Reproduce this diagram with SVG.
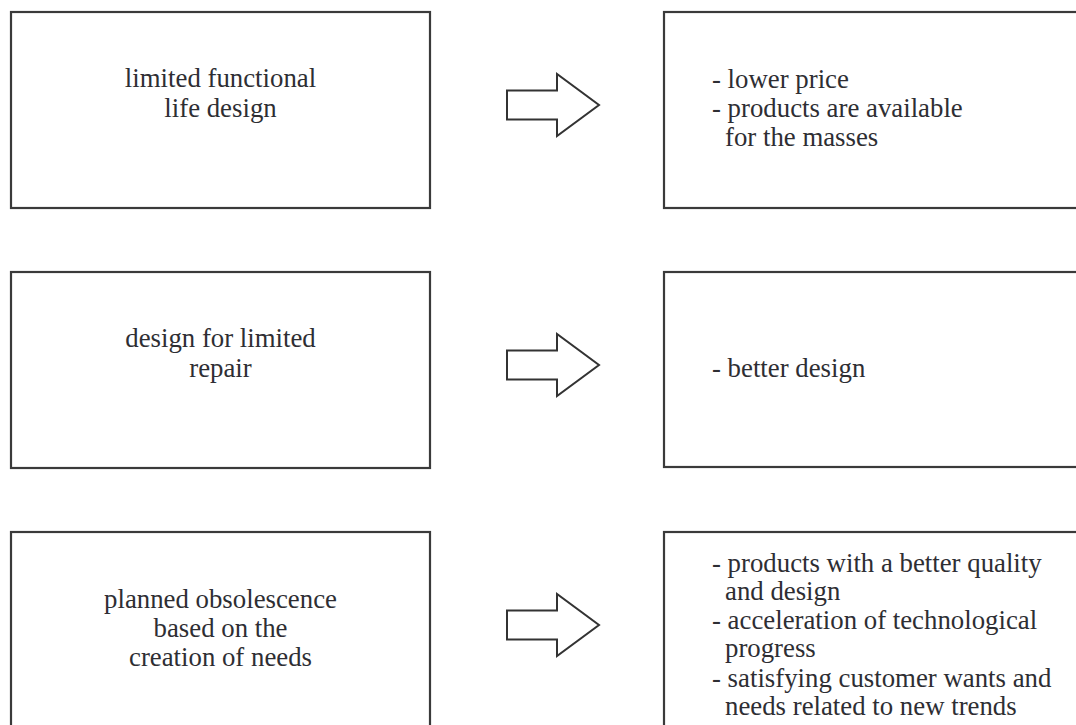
<svg xmlns="http://www.w3.org/2000/svg" width="1076" height="725" viewBox="0 0 1076 725">
<style>
.box{fill:#fff;stroke:#3a3a3a;stroke-width:2.2}
.arr{fill:#fff;stroke:#333;stroke-width:2;stroke-linejoin:miter}
.t{font-family:"Liberation Serif",serif;font-size:26.8px;fill:#2e2e33}
.c{text-anchor:middle}
</style>
<rect width="1076" height="725" fill="#fff"/>
<g id="connectors">
<path class="arr" d="M507,90.5 H557 V74 L599,105 L557,136 V119.5 H507 Z"/>
<path class="arr" d="M507,350.5 H557 V334 L599,365 L557,396 V379.5 H507 Z"/>
<path class="arr" d="M507,610.5 H557 V594 L599,625 L557,656 V639.5 H507 Z"/>
</g>
<g id="n1">
<rect class="box" x="11" y="12" width="419" height="196"/>
<text class="t c" x="220.5" y="87">limited functional</text>
<text class="t c" x="220.5" y="117">life design</text>
</g>
<g id="n2">
<rect class="box" x="664" y="12" width="430" height="196"/>
<text class="t" x="712" y="88">- lower price</text>
<text class="t" x="712" y="117">- products are available</text>
<text class="t" x="725" y="146">for the masses</text>
</g>
<g id="n3">
<rect class="box" x="11" y="272" width="419" height="196"/>
<text class="t c" x="220.5" y="347">design for limited</text>
<text class="t c" x="220.5" y="377">repair</text>
</g>
<g id="n4">
<rect class="box" x="664" y="272" width="430" height="195"/>
<text class="t" x="712" y="377">- better design</text>
</g>
<g id="n5">
<rect class="box" x="11" y="532" width="419" height="210"/>
<text class="t c" x="220.5" y="608">planned obsolescence</text>
<text class="t c" x="220.5" y="637">based on the</text>
<text class="t c" x="220.5" y="666">creation of needs</text>
</g>
<g id="n6">
<rect class="box" x="664" y="532" width="430" height="210"/>
<text class="t" x="712" y="572">- products with a better quality</text>
<text class="t" x="725" y="600">and design</text>
<text class="t" x="712" y="628.5">- acceleration of technological</text>
<text class="t" x="725" y="657">progress</text>
<text class="t" x="712" y="686.5">- satisfying customer wants and</text>
<text class="t" x="725" y="715">needs related to new trends</text>
</g>
</svg>
